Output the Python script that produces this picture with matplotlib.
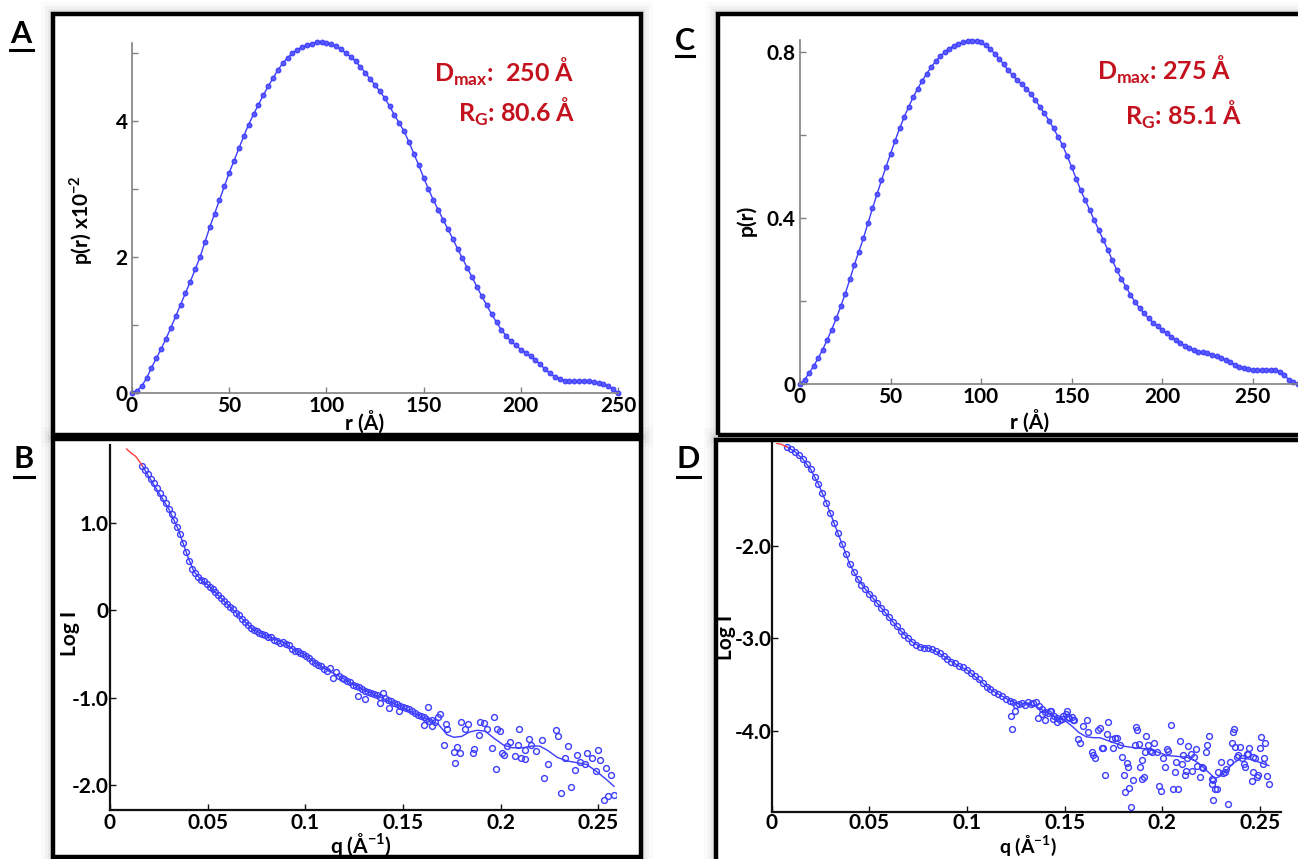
import numpy as np
import matplotlib
matplotlib.use("Agg")
import matplotlib.pyplot as plt
from matplotlib.patches import Rectangle
from matplotlib.lines import Line2D

plt.rcParams['font.family'] = ['Lato', 'DejaVu Sans']
plt.rcParams['mathtext.fontset'] = 'custom'
plt.rcParams['mathtext.rm'] = 'Lato'
plt.rcParams['mathtext.bf'] = 'Lato:bold'

# ---- panel A : p(r), values x10^-2, r step 2.5 A ----
r_a = np.arange(0, 250.1, 2.5)
pr_a = [0.00, 0.03, 0.10, 0.22, 0.37, 0.51, 0.65, 0.80, 0.96, 1.13,
        1.30, 1.47, 1.64, 1.82, 2.00, 2.22, 2.44, 2.64, 2.84, 3.04,
        3.24, 3.42, 3.60, 3.78, 3.95, 4.10, 4.24, 4.38, 4.51, 4.63,
        4.75, 4.85, 4.93, 5.00, 5.05, 5.09, 5.12, 5.14, 5.16, 5.16,
        5.15, 5.13, 5.10, 5.06, 5.00, 4.95, 4.88, 4.80, 4.71, 4.62,
        4.53, 4.44, 4.34, 4.22, 4.09, 3.97, 3.85, 3.69, 3.52, 3.35,
        3.17, 3.00, 2.84, 2.70, 2.55, 2.41, 2.27, 2.12, 1.98, 1.84,
        1.70, 1.56, 1.42, 1.29, 1.16, 1.04, 0.93, 0.84, 0.76, 0.70,
        0.64, 0.59, 0.54, 0.48, 0.42, 0.35, 0.29, 0.24, 0.21, 0.18,
        0.17, 0.17, 0.17, 0.17, 0.17, 0.16, 0.15, 0.13, 0.10, 0.06,
        0.00]

# ---- panel C : p(r), r step 2.5 A ----
r_c = np.arange(0, 275.1, 2.5)
pr_c = [0.000, 0.010, 0.026, 0.043, 0.062, 0.083, 0.106, 0.131, 0.158, 0.187,
        0.218, 0.252, 0.287, 0.319, 0.351, 0.387, 0.423, 0.457, 0.491, 0.523,
        0.555, 0.586, 0.616, 0.643, 0.668, 0.691, 0.712, 0.731, 0.748, 0.764,
        0.778, 0.790, 0.800, 0.808, 0.815, 0.820, 0.823, 0.826, 0.827, 0.826,
        0.823, 0.816, 0.808, 0.796, 0.784, 0.770, 0.756, 0.744, 0.732, 0.722,
        0.712, 0.699, 0.684, 0.668, 0.652, 0.635, 0.616, 0.596, 0.575, 0.550,
        0.523, 0.495, 0.467, 0.443, 0.419, 0.395, 0.371, 0.347, 0.323, 0.298,
        0.274, 0.253, 0.234, 0.215, 0.198, 0.183, 0.170, 0.158, 0.148, 0.139,
        0.130, 0.122, 0.114, 0.106, 0.098, 0.092, 0.086, 0.082, 0.078, 0.076,
        0.074, 0.071, 0.067, 0.063, 0.058, 0.052, 0.046, 0.042, 0.038, 0.036,
        0.034, 0.034, 0.034, 0.034, 0.034, 0.033, 0.030, 0.022, 0.010, 0.004,
        0.000]

# ---- panel B : log I vs q ----
q_b = [0.0165, 0.0180, 0.0195, 0.0210, 0.0225, 0.0240, 0.0255, 0.0270, 0.0285, 0.0300,
       0.0315, 0.0330, 0.0345, 0.0360, 0.0375, 0.0390, 0.0405, 0.0420, 0.0435, 0.0450,
       0.0465, 0.0480, 0.0495, 0.0510, 0.0525, 0.0540, 0.0555, 0.0570, 0.0585, 0.0600,
       0.0615, 0.0630, 0.0645, 0.0660, 0.0675, 0.0690, 0.0705, 0.0720, 0.0735, 0.0750,
       0.0765, 0.0780, 0.0795, 0.0810, 0.0825, 0.0840, 0.0855, 0.0870, 0.0885, 0.0900,
       0.0915, 0.0930, 0.0945, 0.0960, 0.0975, 0.0990, 0.1005, 0.1020, 0.1035, 0.1050,
       0.1065, 0.1080, 0.1095, 0.1110, 0.1125, 0.1140, 0.1155, 0.1170, 0.1185, 0.1200,
       0.1215, 0.1230, 0.1245, 0.1260, 0.1275, 0.1290, 0.1305, 0.1320, 0.1335, 0.1350,
       0.1365, 0.1380, 0.1395, 0.1410, 0.1425, 0.1440, 0.1455, 0.1470, 0.1485, 0.1500,
       0.1515, 0.1530, 0.1545, 0.1560, 0.1575, 0.1590, 0.1605, 0.1620, 0.1635, 0.1650,
       0.1665, 0.1680,
       0.1269, 0.1306, 0.1380, 0.1426, 0.1477, 0.1626, 0.1605, 0.1648, 0.1687, 0.1708,
       0.1725, 0.1776, 0.1762, 0.1790, 0.1767, 0.1798, 0.1819, 0.1835, 0.1861, 0.1858,
       0.1887, 0.1895, 0.1916, 0.1930, 0.1967, 0.1955, 0.1980, 0.1998, 0.1976, 0.2007,
       0.2015, 0.2032, 0.2049, 0.2071, 0.2095, 0.2087, 0.2104, 0.2126, 0.1720, 0.2147,
       0.2125, 0.2157, 0.2178, 0.2210, 0.2221, 0.2242, 0.2285, 0.2295, 0.2306, 0.2327,
       0.2344, 0.2359, 0.2380, 0.2391, 0.2408, 0.2429, 0.2444, 0.2466, 0.2487, 0.2497,
       0.2508, 0.2529, 0.2540, 0.2550, 0.2565, 0.2582]
logi_b = [1.65, 1.60, 1.55, 1.50, 1.45, 1.40, 1.34, 1.28, 1.22, 1.16,
          1.10, 1.03, 0.95, 0.87, 0.77, 0.66, 0.56, 0.47, 0.42, 0.38,
          0.35, 0.33, 0.30, 0.27, 0.24, 0.21, 0.17, 0.14, 0.10, 0.07,
          0.04, 0.01, -0.03, -0.06, -0.10, -0.13, -0.17, -0.20, -0.23, -0.24,
          -0.26, -0.27, -0.28, -0.30, -0.31, -0.34, -0.35, -0.37, -0.36, -0.38,
          -0.40, -0.44, -0.46, -0.47, -0.49, -0.50, -0.52, -0.55, -0.58, -0.60,
          -0.62, -0.64, -0.67, -0.69, -0.66, -0.77, -0.71, -0.75, -0.77, -0.79,
          -0.81, -0.82, -0.85, -0.87, -0.88, -0.90, -0.92, -0.93, -0.95, -0.96,
          -0.97, -0.99, -0.95, -1.00, -1.02, -1.04, -1.06, -1.07, -1.09, -1.10,
          -1.12, -1.13, -1.15, -1.17, -1.19, -1.21, -1.22, -1.24, -1.26, -1.25,
          -1.27, -1.22,
          -0.98, -1.01, -1.06, -1.12, -1.15, -1.10, -1.31, -1.32, -1.18, -1.54,
          -1.35, -1.56, -1.62, -1.63, -1.74, -1.28, -1.36, -1.30, -1.58, -1.63,
          -1.42, -1.27, -1.29, -1.36, -1.22, -1.57, -1.36, -1.38, -1.81, -1.63,
          -1.65, -1.55, -1.50, -1.66, -1.36, -1.54, -1.69, -1.60, -1.30, -1.47,
          -1.70, -1.54, -1.61, -1.48, -1.92, -1.76, -1.37, -1.44, -2.09, -1.69,
          -1.55, -2.02, -1.82, -1.65, -1.73, -1.76, -1.63, -1.69, -1.84, -1.59,
          -1.71, -2.17, -1.80, -2.12, -1.88, -2.11]

qfit_b = [0.0165, 0.020, 0.025, 0.030, 0.035, 0.040, 0.043, 0.047, 0.050, 0.055,
          0.060, 0.065, 0.070, 0.073, 0.077, 0.083, 0.089, 0.094, 0.100, 0.105,
          0.111, 0.117, 0.124, 0.130, 0.137, 0.143, 0.150, 0.156, 0.162, 0.168,
          0.1725, 0.176, 0.180, 0.184, 0.188, 0.192, 0.1965, 0.2015, 0.206, 0.211,
          0.216, 0.220, 0.224, 0.229, 0.234, 0.239, 0.244, 0.249, 0.254, 0.258]
fit_b = [1.65, 1.52, 1.34, 1.16, 0.92, 0.60, 0.44, 0.34, 0.29, 0.18,
         0.07, -0.04, -0.15, -0.22, -0.26, -0.32, -0.37, -0.45, -0.51, -0.60,
         -0.68, -0.75, -0.84, -0.91, -0.98, -1.04, -1.11, -1.18, -1.24, -1.30,
         -1.42, -1.45, -1.44, -1.39, -1.37, -1.38, -1.46, -1.54, -1.57, -1.57,
         -1.55, -1.55, -1.60, -1.68, -1.72, -1.74, -1.76, -1.84, -1.93, -2.01]
qred_b = [0.0085, 0.011, 0.013, 0.015, 0.0165]
red_b = [1.84, 1.79, 1.76, 1.70, 1.65]

# ---- panel D : log I vs q ----
q_d = [0.008, 0.010, 0.012, 0.014, 0.016, 0.018, 0.020, 0.022, 0.024, 0.026,
       0.028, 0.030, 0.032, 0.034, 0.036, 0.038, 0.040, 0.042, 0.044, 0.046,
       0.048, 0.050, 0.052, 0.054, 0.056, 0.058, 0.060, 0.062, 0.064, 0.066,
       0.068, 0.070, 0.072, 0.074, 0.076, 0.078, 0.080, 0.082, 0.084, 0.086,
       0.088, 0.090, 0.092, 0.094, 0.096, 0.098, 0.100, 0.102, 0.104, 0.106,
       0.108, 0.110, 0.112, 0.114, 0.116, 0.118, 0.120, 0.122,
       0.1235, 0.1250, 0.1265, 0.1280, 0.1295, 0.1310, 0.1325, 0.1340, 0.1355, 0.1370,
       0.1385, 0.1400, 0.1415, 0.1430, 0.1445, 0.1460, 0.1475, 0.1490, 0.1505, 0.1520,
       0.1535, 0.1550,
       0.1224, 0.1229, 0.1246, 0.1365, 0.1382, 0.1400, 0.1425, 0.1442, 0.1460, 0.1485,
       0.1510, 0.1519, 0.1544, 0.1570, 0.1579, 0.1596, 0.1613, 0.1621, 0.1639, 0.1647,
       0.1655, 0.1672, 0.1690, 0.1707, 0.1715, 0.1724,
       0.1681, 0.1698, 0.1741, 0.1749, 0.1760, 0.1770, 0.1783, 0.1792, 0.1804, 0.1809,
       0.1818, 0.1826, 0.1831, 0.1838, 0.1848, 0.1860, 0.1865, 0.1869, 0.1882, 0.1886,
       0.1894, 0.1894, 0.1908, 0.1911, 0.1916, 0.1928, 0.1937, 0.1946, 0.1957, 0.1971,
       0.1985, 0.1993, 0.2005, 0.2014, 0.2022, 0.2031, 0.2042, 0.2053, 0.2065, 0.2070,
       0.2082, 0.2090, 0.2099, 0.2107, 0.2116, 0.2121, 0.2128, 0.2133, 0.2147, 0.2150,
       0.2162, 0.2172, 0.2179, 0.2193, 0.2201, 0.2210, 0.2224, 0.2230, 0.2241, 0.2253,
       0.2253, 0.2261, 0.2270, 0.2261, 0.2278, 0.2287, 0.2299, 0.2309, 0.2320, 0.2326,
       0.2338, 0.2346, 0.2355, 0.2360, 0.2367, 0.2372, 0.2381, 0.2389, 0.2398, 0.2406,
       0.2418, 0.2423, 0.2432, 0.2440, 0.2445, 0.2458, 0.2466, 0.2466, 0.2474, 0.2483,
       0.2491, 0.2500, 0.2504, 0.2517, 0.2520, 0.2526, 0.2534, 0.2548]
logi_d = [-0.94, -0.96, -0.99, -1.03, -1.07, -1.12, -1.18, -1.26, -1.34, -1.43,
          -1.54, -1.65, -1.76, -1.87, -1.98, -2.09, -2.20, -2.29, -2.36, -2.42,
          -2.47, -2.52, -2.57, -2.62, -2.67, -2.72, -2.77, -2.82, -2.87, -2.92,
          -2.96, -3.00, -3.04, -3.07, -3.09, -3.10, -3.10, -3.11, -3.14, -3.16,
          -3.19, -3.22, -3.25, -3.27, -3.30, -3.31, -3.34, -3.37, -3.41, -3.44,
          -3.48, -3.52, -3.55, -3.58, -3.60, -3.62, -3.65, -3.67,
          -3.69, -3.72, -3.71, -3.70, -3.72, -3.69, -3.71, -3.70, -3.69, -3.73,
          -3.76, -3.79, -3.80, -3.78, -3.84, -3.86, -3.88, -3.84, -3.81, -3.86,
          -3.85, -3.88,
          -3.84, -3.98, -3.78, -3.86, -3.81, -3.88, -3.78, -3.87, -3.90, -3.87,
          -3.78, -3.85, -3.88, -4.08, -4.13, -3.94, -3.88, -4.01, -4.22, -4.26,
          -4.29, -3.99, -4.18, -4.47, -4.03, -3.90,
          -3.97, -4.18, -4.08, -4.18, -4.07, -4.07, -4.15, -4.28, -4.47, -4.65,
          -4.34, -4.38, -4.61, -4.82, -4.52, -4.15, -3.95, -3.99, -4.14, -4.38,
          -4.31, -4.51, -4.49, -4.22, -4.05, -4.15, -4.21, -4.22, -4.13, -4.22,
          -4.59, -4.64, -4.29, -4.38, -4.19, -4.21, -3.93, -4.62, -4.44, -4.33,
          -4.62, -4.10, -4.35, -4.26, -4.47, -4.43, -4.29, -4.16, -4.25, -4.43,
          -4.28, -4.19, -4.37, -4.49, -4.38, -4.40, -4.22, -4.15, -4.05, -4.51,
          -4.57, -4.52, -4.62, -4.74, -4.62, -4.44, -4.33, -4.45, -4.44, -4.41,
          -4.78, -4.33, -4.13, -4.01, -3.98, -4.17, -4.28, -4.26, -4.17, -4.29,
          -4.35, -4.39, -4.25, -4.24, -4.18, -4.54, -4.28, -4.44, -4.29, -4.49,
          -4.47, -4.18, -4.06, -4.35, -4.29, -4.13, -4.48, -4.57]

qfit_d = [0.008, 0.012, 0.016, 0.020, 0.024, 0.028, 0.032, 0.036, 0.040, 0.044,
          0.048, 0.052, 0.056, 0.060, 0.064, 0.068, 0.072, 0.076, 0.080, 0.084,
          0.088, 0.092, 0.096, 0.100, 0.104, 0.108, 0.112, 0.116, 0.122, 0.127,
          0.131, 0.136, 0.140, 0.144, 0.148, 0.151, 0.154, 0.157, 0.161, 0.165,
          0.168, 0.172, 0.176, 0.180, 0.186, 0.192, 0.197, 0.202, 0.207, 0.2125,
          0.216, 0.2195, 0.223, 0.227, 0.230, 0.233, 0.236, 0.240, 0.2445, 0.249,
          0.2545]
fit_d = [-0.94, -0.99, -1.07, -1.18, -1.34, -1.54, -1.76, -1.98, -2.20, -2.36,
         -2.47, -2.57, -2.67, -2.77, -2.87, -2.96, -3.04, -3.09, -3.10, -3.14,
         -3.19, -3.25, -3.30, -3.34, -3.41, -3.48, -3.55, -3.60, -3.67, -3.71,
         -3.70, -3.74, -3.79, -3.83, -3.87, -3.90, -3.95, -4.01, -4.06, -4.07,
         -4.07, -4.10, -4.13, -4.16, -4.18, -4.19, -4.22, -4.26, -4.27, -4.28,
         -4.31, -4.36, -4.43, -4.51, -4.48, -4.42, -4.35, -4.29, -4.30, -4.33,
         -4.37]
qred_d = [0.0025, 0.005, 0.008]
red_d = [-0.90, -0.91, -0.94]

W, H = 1298, 859
BLUE = '#3c3cff'
RED_TXT = '#c3121e'


def fx(x):
    return x / W


def fy(y):
    return 1 - y / H


fig = plt.figure(figsize=(W / 100, H / 100), dpi=100)
fig.patch.set_facecolor('white')

# panel frames with a soft grey shadow
frames = [(53, 14, 641, 435), (53, 439, 641, 857), (718, 14, 1310, 435), (716, 440, 1310, 870)]
for (x0, y0, x1, y1) in frames:
    for k, a in [(12, 0.04), (8, 0.06), (5, 0.08), (3, 0.10)]:
        fig.patches.append(Rectangle((fx(x0 - k), fy(y1 + k)), (x1 - x0 + 2 * k) / W,
                                     (y1 - y0 + 2 * k) / H, transform=fig.transFigure,
                                     fc='#808080', ec='none', alpha=a, zorder=-3))
for (x0, y0, x1, y1) in frames:
    fig.patches.append(Rectangle((fx(x0), fy(y1)), (x1 - x0) / W, (y1 - y0) / H,
                                 transform=fig.transFigure, fc='white', ec='none', zorder=-2))
    fig.patches.append(Rectangle((fx(x0), fy(y1)), (x1 - x0) / W, (y1 - y0) / H,
                                 transform=fig.transFigure, fc='none', ec='black',
                                 lw=3.2, zorder=10))


def style_axes(ax, color, lw):
    ax.set_facecolor('none')
    for s in ['top', 'right']:
        ax.spines[s].set_visible(False)
    for s in ['left', 'bottom']:
        ax.spines[s].set_color(color)
        ax.spines[s].set_linewidth(lw)
    ax.tick_params(direction='in', length=4, width=1, color=color,
                   labelsize=15, pad=3)
    ax.tick_params(axis='x', pad=2)
    for lab in ax.get_xticklabels() + ax.get_yticklabels():
        lab.set_fontweight('bold')


# ---- A ----
axA = fig.add_axes([fx(132), fy(393), (618 - 132) / W, (393 - 43) / H])
axA.plot(r_a, pr_a, '-', color=BLUE, lw=1.0, marker='o', ms=3.4, mfc='#5a5aff',
         mec=BLUE, mew=0.8, clip_on=False)
axA.set_xlim(0, 250)
axA.set_ylim(0, 5.15)
axA.set_xticks([0, 50, 100, 150, 200, 250])
axA.set_xticklabels(['0', '50', '100', '150', '200', '250'])
axA.set_yticks([0, 1, 2, 3, 4, 5])
axA.set_yticklabels(['0', '', '2', '', '4', ''])
style_axes(axA, '#808080', 1.2)

# ---- C ----
axC = fig.add_axes([fx(800), fy(384), (1298 - 800) / W, (384 - 40) / H])
axC.plot(r_c, pr_c, '-', color=BLUE, lw=1.0, marker='o', ms=3.4, mfc='#5a5aff',
         mec=BLUE, mew=0.8, clip_on=False)
axC.set_xlim(0, 275)
axC.set_ylim(0, 0.829)
axC.set_xticks([0, 50, 100, 150, 200, 250])
axC.set_xticklabels(['0', '50', '100', '150', '200', '250'])
axC.set_yticks([0, 0.2, 0.4, 0.6, 0.8])
axC.set_yticklabels(['0', '', '0.4', '', '0.8'])
style_axes(axC, '#808080', 1.2)

# ---- B ----
axB = fig.add_axes([fx(110), fy(810), (616 - 110) / W, (810 - 445) / H])
axB.plot(q_b, logi_b, 'o', ms=4.2, mfc='none', mec=BLUE, mew=1.0)
axB.plot(qfit_b, fit_b, '-', color=BLUE, lw=1.0)
axB.plot(qred_b, red_b, '-', color='#ff4040', lw=1.0)
axB.set_xlim(0, 0.259)
axB.set_ylim(-2.28, 1.886)
axB.set_xticks([0, 0.05, 0.1, 0.15, 0.2, 0.25])
axB.set_xticklabels(['0', '0.05', '0.1', '0.15', '0.2', '0.25'])
axB.set_yticks([1, 0, -1, -2])
axB.set_yticklabels(['1.0', '0', '-1.0', '-2.0'])
style_axes(axB, '#111111', 1.6)
axB.tick_params(axis='y', pad=1)

# ---- D ----
axD = fig.add_axes([fx(771.6), fy(812), (1281 - 771.6) / W, (812 - 443) / H])
axD.plot(q_d, logi_d, 'o', ms=4.2, mfc='none', mec=BLUE, mew=1.0)
axD.plot(qfit_d, fit_d, '-', color=BLUE, lw=1.0)
axD.plot(qred_d, red_d, '-', color='#ff4040', lw=1.0)
axD.set_xlim(0, 0.2607)
axD.set_ylim(-4.87, -0.896)
axD.set_xticks([0, 0.05, 0.1, 0.15, 0.2, 0.25])
axD.set_xticklabels(['0', '0.05', '0.1', '0.15', '0.2', '0.25'])
axD.set_yticks([-2, -3, -4])
axD.set_yticklabels(['-2.0', '-3.0', '-4.0'])
style_axes(axD, '#111111', 1.6)
axD.tick_params(axis='y', pad=0)
axD.tick_params(axis='x', pad=1)

# axis labels
lab = dict(fontsize=15, fontweight='bold', ha='center', va='center')
fig.text(fx(365), fy(422), 'r (Å)', **lab)
fig.text(fx(1030), fy(421), 'r (Å)', **lab)
fig.text(fx(361), fy(845), 'q (Å$^{\\mathbf{-1}}$)', **lab)
fig.text(fx(1028), fy(846), 'q (Å$^{\\mathbf{-1}}$)', fontsize=14, fontweight='bold',
         ha='center', va='center')
fig.text(fx(81), fy(220), 'p(r) x10$^{\\mathbf{-2}}$', rotation=90, **lab)
fig.text(fx(746), fy(220), 'p(r)', rotation=90, **lab)
fig.text(fx(70), fy(633), 'Log I', rotation=90, **lab)
fig.text(fx(726), fy(637), 'Log I', rotation=90, **lab)

# Dmax / Rg annotations
ann = dict(fontsize=18, color=RED_TXT, fontweight='bold', ha='right', va='baseline')
fig.text(fx(574), fy(82), 'D$_{\\mathregular{max}}$:  250 Å', **ann)
fig.text(fx(575), fy(122), 'R$_{\\mathregular{G}}$: 80.6 Å', **ann)
fig.text(fx(1231), fy(80), 'D$_{\\mathregular{max}}$: 275 Å', **ann)
fig.text(fx(1242), fy(125), 'R$_{\\mathregular{G}}$: 85.1 Å', **ann)

# panel letters, underlined
letters = [('A', 21, 34, 10, 33, 50), ('B', 24, 459, 14, 34, 477),
           ('C', 685, 41, 676, 694, 56), ('D', 688, 459, 677, 700, 477)]
for ch, x, y, u0, u1, uy in letters:
    fig.text(fx(x), fy(y), ch, fontsize=22, fontweight='bold', ha='center', va='center')
    fig.lines.append(Line2D([fx(u0), fx(u1)], [fy(uy), fy(uy)], color='black', lw=2.2,
                            transform=fig.transFigure))

fig.savefig('out.png', dpi=100)
